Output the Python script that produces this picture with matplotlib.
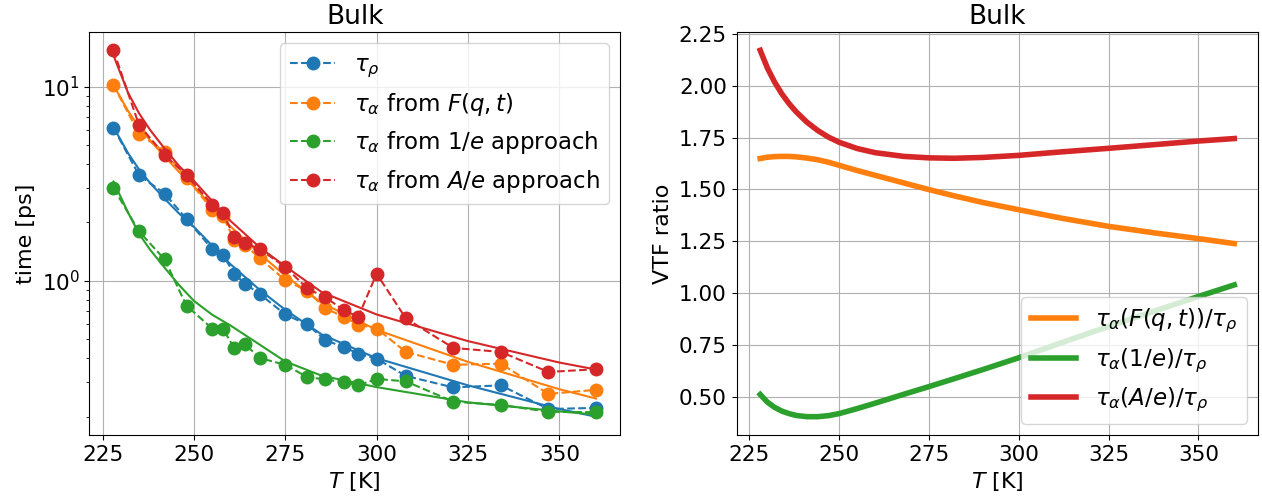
import matplotlib
matplotlib.use("Agg")
import matplotlib.pyplot as plt

# ---- measured relaxation times (left panel) ----
T = [228, 235, 242, 248, 255, 258, 261, 264, 268, 275, 281, 286, 291, 295, 300, 308, 321, 334, 347, 360]
tau_rho = [6.15, 3.50, 2.82, 2.08, 1.46, 1.36, 1.09, 0.97, 0.857, 0.672, 0.597, 0.495, 0.457, 0.422, 0.398, 0.324, 0.283, 0.290, 0.219, 0.222]
tau_F = [10.2, 5.73, 4.63, 3.40, 2.33, 2.15, 1.63, 1.53, 1.31, 1.01, 0.888, 0.722, 0.654, 0.596, 0.569, 0.431, 0.370, 0.375, 0.262, 0.275]
tau_1e = [3.01, 1.80, 1.29, 0.745, 0.569, 0.565, 0.453, 0.472, 0.401, 0.370, 0.320, 0.311, 0.301, 0.290, 0.313, 0.304, 0.239, 0.230, 0.212, 0.211]
tau_Ae = [15.4, 6.34, 4.45, 3.50, 2.47, 2.24, 1.68, 1.57, 1.46, 1.18, 0.916, 0.823, 0.708, 0.654, 1.09, 0.641, 0.452, 0.431, 0.340, 0.351]

# ---- VTF fit curves (left panel) ----
fit_T = [228, 232, 235, 238, 242, 246, 250, 255, 260, 268, 275, 285, 300, 325, 350, 360]
fit_rho = [6.2, 4.55, 3.75, 3.2, 2.65, 2.22, 1.9, 1.52, 1.22, 0.9, 0.71, 0.53, 0.40, 0.29, 0.219, 0.200]
fit_F = [10.2, 7.5, 6.2, 5.3, 4.37, 3.63, 3.07, 2.42, 1.91, 1.38, 1.065, 0.77, 0.56, 0.383, 0.277, 0.248]
fit_1e = [3.25, 2.25, 1.75, 1.45, 1.17, 0.95, 0.79, 0.67, 0.59, 0.47, 0.385, 0.325, 0.284, 0.237, 0.213, 0.205]
fit_Ae = [14.5, 9.3, 7.3, 6.0, 4.8, 3.9, 3.28, 2.58, 2.04, 1.49, 1.19, 0.875, 0.672, 0.49, 0.38, 0.35]

# ---- VTF ratio curves (right panel) ----
ratio_T = [228, 230, 232, 234, 236, 238, 241, 244, 247, 250, 255, 260, 268, 275, 282, 290, 300, 312, 325, 338, 350, 360]
ratio_F = [1.649, 1.655, 1.658, 1.659, 1.659, 1.657, 1.651, 1.643, 1.631, 1.616, 1.591, 1.568, 1.531, 1.499, 1.469, 1.437, 1.402, 1.361, 1.322, 1.290, 1.263, 1.239]
ratio_1e = [0.512, 0.475, 0.450, 0.432, 0.420, 0.411, 0.405, 0.405, 0.410, 0.420, 0.444, 0.470, 0.513, 0.550, 0.588, 0.632, 0.689, 0.762, 0.840, 0.915, 0.984, 1.040]
ratio_Ae = [2.170, 2.085, 2.017, 1.961, 1.914, 1.874, 1.824, 1.784, 1.752, 1.727, 1.697, 1.677, 1.659, 1.652, 1.650, 1.654, 1.664, 1.681, 1.698, 1.716, 1.733, 1.745]

labels_left = [r"$\tau_\rho$", r"$\tau_\alpha$ from $F(q,t)$",
               r"$\tau_\alpha$ from $1/e$ approach", r"$\tau_\alpha$ from $A/e$ approach"]
labels_right = [r"$\tau_\alpha(F(q,t))/\tau_\rho$", r"$\tau_\alpha(1/e)/\tau_\rho$",
                r"$\tau_\alpha(A/e)/\tau_\rho$"]

FS = 15.5
LFS = 16.5
fig = plt.figure(figsize=(12.62, 4.98), dpi=100)
ax1 = fig.add_axes([0.0708, 0.1265, 0.4205, 0.8092])
ax2 = fig.add_axes([0.5836, 0.1265, 0.4132, 0.8092])

cols = ["C0", "C1", "C2", "C3"]
for y, f, c, lab in zip([tau_rho, tau_F, tau_1e, tau_Ae], [fit_rho, fit_F, fit_1e, fit_Ae], cols, labels_left):
    ax1.plot(T, y, "o--", color=c, ms=9, lw=1.5, label=lab)
    ax1.plot(fit_T, f, "-", color=c, lw=1.5)
ax1.set_yscale("log")
ax1.set_title("Bulk", fontsize=19)
ax1.set_xlabel(r"$T$ [K]", fontsize=16)
ax1.set_ylabel("time [ps]", fontsize=16)
ax1.tick_params(labelsize=FS)
ax1.set_xticks([225, 250, 275, 300, 325, 350])
ax1.grid(True)
ax1.legend(loc="upper right", fontsize=LFS)

for r, c, lab in zip([ratio_F, ratio_1e, ratio_Ae], cols[1:], labels_right):
    ax2.plot(ratio_T, r, "-", color=c, lw=4, label=lab)
ax2.set_title("Bulk", fontsize=19)
ax2.set_xlabel(r"$T$ [K]", fontsize=16)
ax2.set_ylabel("VTF ratio", fontsize=16)
ax2.tick_params(labelsize=FS)
ax2.set_xticks([225, 250, 275, 300, 325, 350])
ax2.set_yticks([0.5, 0.75, 1.0, 1.25, 1.5, 1.75, 2.0, 2.25])
ax2.grid(True)
ax2.legend(loc="lower right", fontsize=LFS)

fig.savefig("out.png", dpi=100)
